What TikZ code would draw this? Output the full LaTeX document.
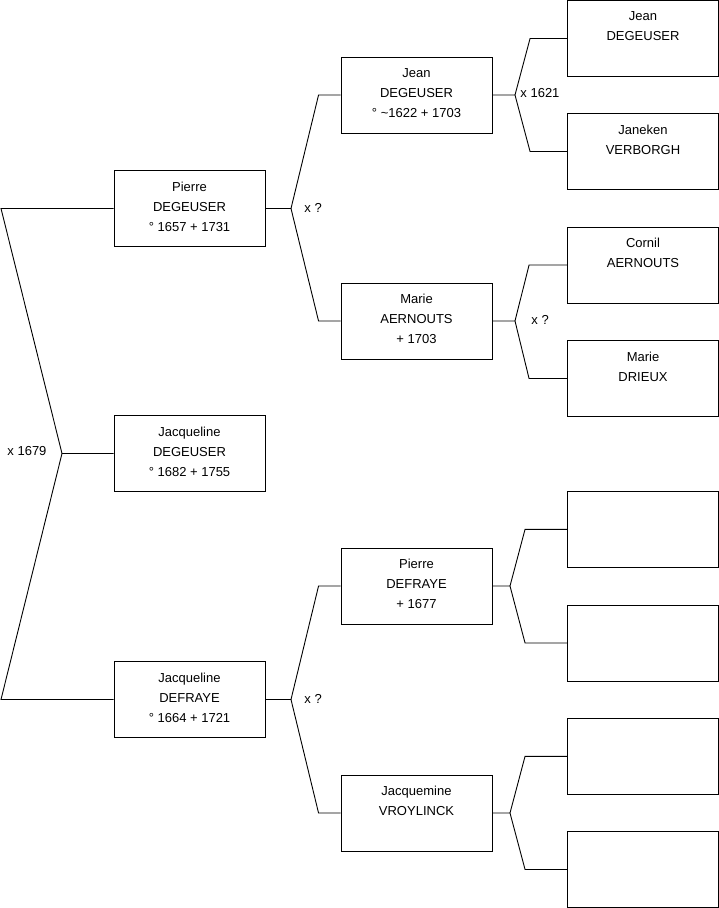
\documentclass[tikz,border=0pt]{standalone}
\usepackage{fontspec}
\setmainfont{Liberation Sans}

\begin{document}
\begin{tikzpicture}[x=1pt,y=-1pt,line width=0.9pt,
    every node/.style={font=\fontsize{13}{20}\selectfont},
    person/.style={draw,minimum width=151pt,minimum height=76pt,align=center,inner sep=0pt,text depth=4pt},
    wed/.style={anchor=west,inner sep=0pt}]
  \useasboundingbox (0,0) rectangle (719,908);
  % child and parents
  \node[person] (PD)  at (189.5,208.5) {Pierre\\DEGEUSER\\° 1657 + 1731};
  \node[person] (JqD) at (189.5,453.5) {Jacqueline\\DEGEUSER\\° 1682 + 1755};
  \node[person] (JqF) at (189.5,699.5) {Jacqueline\\DEFRAYE\\° 1664 + 1721};
  % grandparents
  \node[person] (JD)  at (416.5,95)    {Jean\\DEGEUSER\\° \textasciitilde1622 + 1703};
  \node[person] (MA)  at (416.5,321)   {Marie\\AERNOUTS\\+ 1703};
  \node[person] (PF)  at (416.5,586)   {Pierre\\DEFRAYE\\+ 1677};
  \node[person] (JV)  at (416.5,813)   {Jacquemine\\VROYLINCK\\\mbox{}};
  % great-grandparents
  \node[person] (JD2) at (643,38.5)    {Jean\\DEGEUSER\\\mbox{}};
  \node[person] (JnV) at (643,151.5)   {Janeken\\VERBORGH\\\mbox{}};
  \node[person] (CA)  at (643,265)     {Cornil\\AERNOUTS\\\mbox{}};
  \node[person] (MD)  at (643,378.5)   {Marie\\DRIEUX\\\mbox{}};
  \node[person] (E1)  at (643,529.3)   {};
  \node[person] (E2)  at (643,643)     {};
  \node[person] (E3)  at (643,756.3)   {};
  \node[person] (E4)  at (643,869.5)   {};

  % fork points
  \coordinate (f0) at (62,453.5);
  \coordinate (f1) at (291,208.5);
  \coordinate (f2) at (291,699.5);
  \coordinate (f3) at (515,95);
  \coordinate (f4) at (515,321);
  \coordinate (f5) at (510,586);
  \coordinate (f6) at (510,813);

  % marriages
  \node[wed] (w0) at (7,451.5)   {x 1679};
  \node[wed] (w1) at (304,208)   {x ?};
  \node[wed] (w2) at (304,698.5) {x ?};
  \node[wed] (w3) at (520,93)    {x 1621};
  \node[wed] (w4) at (531,320)   {x ?};

  \draw (JqD.west) -- (f0) -- (1,208.5) -- (PD.west);
  \draw (f0) -- (1,699.5) -- (JqF.west);
  \draw (PD.east) -- (f1) -- ([xshift=-22pt]JD.west) -- (JD.west);
  \draw (f1) -- ([xshift=-22pt]MA.west) -- (MA.west);
  \draw (JqF.east) -- (f2) -- ([xshift=-22pt]PF.west) -- (PF.west);
  \draw (f2) -- ([xshift=-22pt]JV.west) -- (JV.west);
  \draw (JD.east) -- (f3) -- ([xshift=-37pt]JD2.west) -- (JD2.west);
  \draw (f3) -- ([xshift=-37pt]JnV.west) -- (JnV.west);
  \draw (MA.east) -- (f4) -- ([xshift=-38pt]CA.west) -- (CA.west);
  \draw (f4) -- ([xshift=-38pt]MD.west) -- (MD.west);
  \draw (PF.east) -- (f5) -- ([xshift=-42pt]E1.west) -- (E1.west);
  \draw (f5) -- ([xshift=-42pt]E2.west) -- (E2.west);
  \draw (JV.east) -- (f6) -- ([xshift=-42pt]E3.west) -- (E3.west);
  \draw (f6) -- ([xshift=-42pt]E4.west) -- (E4.west);
\end{tikzpicture}
\end{document}
